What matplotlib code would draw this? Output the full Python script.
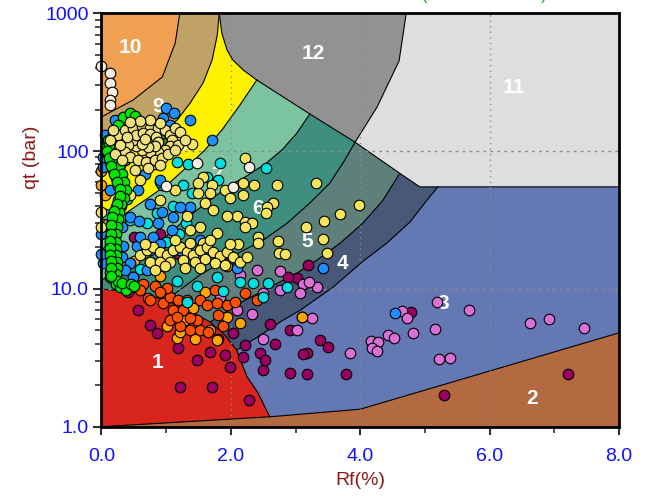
import matplotlib
matplotlib.use('Agg')
import matplotlib.pyplot as plt
from matplotlib.ticker import FixedLocator, NullFormatter

# ---- zone boundaries, (Rf %, qt bar) ----
B_10_9 = [(0.0, 177), (0.49, 235), (0.94, 345), (1.14, 609), (1.21, 1000)]
B_9_8 = [(0.0, 79), (0.36, 97), (0.67, 116), (0.95, 140), (1.17, 168), (1.37, 223),
         (1.57, 312), (1.71, 458), (1.79, 696), (1.82, 1000)]
B_8_7 = [(0.0, 26.8), (0.36, 35), (0.72, 45.7), (1.03, 57.7), (1.32, 76.7), (1.60, 102),
         (1.86, 142), (2.14, 216), (2.40, 328)]
B_7_6 = [(0.0, 11.6), (0.52, 14.9), (0.90, 21.9), (1.32, 32.7), (1.68, 44.2), (1.99, 56.7),
         (2.22, 64.9), (2.53, 80.6), (2.79, 102), (3.02, 135), (3.22, 186)]
B_6_5 = [(1.0, 8.3), (1.52, 12.6), (1.99, 17), (2.50, 22.6), (2.87, 30), (3.22, 42),
         (3.53, 58.6), (3.76, 86), (3.92, 116)]
B_5_4 = [(1.68, 5.75), (2.14, 7.9), (2.60, 10.3), (3.02, 13.0), (3.33, 16.2), (3.69, 21.5),
         (4.04, 30), (4.35, 44), (4.61, 69)]
B_4_3 = [(2.09, 3.6), (2.45, 4.6), (2.76, 5.75), (3.07, 7.0), (3.58, 10.3), (4.03, 15.7),
         (4.41, 21.5), (4.77, 30.6), (5.03, 44), (5.20, 55)]
B_1 = [(0.0, 10.0), (0.6, 9.3), (1.0, 8.3), (1.35, 7.0), (1.68, 5.75), (1.91, 4.6),
       (2.09, 3.6), (2.25, 2.3), (2.42, 1.76), (2.60, 1.18)]
B_2 = [(0.0, 1.0), (2.60, 1.18), (4.0, 1.34), (8.0, 4.8)]
B_12 = [(1.82, 1000), (1.86, 719), (1.94, 542), (2.03, 458), (2.19, 388), (2.40, 328),
        (3.22, 186), (3.92, 116)]
B_11_LOW = [(3.92, 116), (4.61, 69), (4.92, 55), (8.0, 55)]
B_12_11 = [(3.92, 116), (4.26, 209), (4.60, 451), (4.71, 1000)]

ZONE_COLORS = {1: '#d8261e', 2: '#b46a40', 3: '#6478b4', 4: '#485878', 5: '#5e807a',
               6: '#3f8f80', 7: '#7cc4a0', 8: '#fff200', 9: '#c0a266', 10: '#f0a050',
               11: '#dedede', 12: '#929292'}
ZONE_LABELS = [(1, 0.87, 2.9), (2, 6.65, 1.61), (3, 5.28, 7.8), (4, 3.73, 15.4),
               (5, 3.18, 21.9), (6, 2.42, 38.6), (7, 1.79, 67), (8, 1.26, 111),
               (9, 0.87, 209), (10, 0.44, 569), (11, 6.38, 287), (12, 3.27, 515)]

# ---- CPT data, (Rf %, qt bar) ----
MAROON = [(0.41, 9.5), (0.56, 7.0), (0.86, 4.8), (1.18, 3.75), (1.48, 3.05), (1.21, 1.95),
          (1.71, 1.95), (2.28, 1.56), (1.99, 2.7), (2.03, 4.8), (2.19, 3.2), (2.45, 3.4),
          (2.50, 2.6), (2.60, 5.6), (2.68, 4.0), (2.91, 5.0), (2.91, 2.45), (3.02, 11.9),
          (2.88, 12.3), (3.19, 14.8), (3.18, 3.4), (3.18, 2.4), (3.38, 4.26), (3.50, 3.8),
          (3.11, 3.35), (3.78, 2.4), (4.78, 6.8), (5.29, 1.7), (7.21, 2.4), (1.91, 3.3),
          (1.68, 3.5), (2.22, 3.9), (0.75, 5.5), (2.53, 3.05), (1.80, 4.3), (0.5, 24),
          (0.9, 25), (0.3, 20), (1.2, 18)]
ORCHID = [(2.40, 13.7), (2.76, 13.5), (2.50, 9.3), (2.76, 9.8), (3.11, 10.9), (3.33, 10.3),
          (3.21, 11.2), (3.07, 9.3), (1.83, 8.7), (2.09, 7.0), (2.33, 6.6), (2.50, 4.3),
          (3.10, 6.3), (3.25, 6.1), (3.02, 5.0), (3.84, 3.4), (4.17, 4.2), (4.27, 4.1),
          (4.18, 3.7), (4.26, 3.55), (4.43, 4.6), (4.52, 4.4), (4.64, 6.9), (4.72, 6.1),
          (4.81, 4.8), (5.15, 5.1), (5.19, 8.0), (5.68, 7.0), (5.22, 3.1), (5.39, 3.15),
          (6.62, 5.7), (6.92, 6.0), (7.46, 5.2), (2.14, 12.6), (0.75, 15.6)]
ORANGE = [(1.01, 5.4), (1.17, 4.4), (1.45, 4.3), (1.79, 4.26), (1.94, 6.3), (2.14, 5.65),
          (1.60, 9.5), (1.41, 7.3), (1.94, 14.6), (3.10, 6.3), (1.21, 4.9), (1.68, 5.0),
          (1.29, 5.9), (0.0, 57), (0.0, 72), (0.05, 48), (0.1, 30), (0.3, 40), (0.5, 16),
          (0.2, 12), (0.9, 12.5)]
ORANGERED = [(0.49, 12.1), (0.64, 10.9), (0.83, 10.5), (0.72, 8.6), (0.95, 7.9), (1.06, 8.7),
             (1.18, 8.3), (1.11, 7.0), (1.26, 7.0), (1.06, 5.9), (1.21, 5.4), (1.37, 5.0),
             (1.52, 5.0), (1.65, 4.85), (1.48, 5.9), (1.52, 8.3), (1.63, 7.6), (1.79, 7.9),
             (1.80, 6.5), (1.94, 7.6), (2.06, 8.0), (1.88, 5.4), (2.22, 9.3), (2.40, 8.3),
             (1.01, 10.1), (0.75, 8.3), (1.32, 8.3), (1.17, 6.3), (1.37, 6.1), (0.9, 9.5),
             (0.6, 9.8), (1.75, 9.8)]
CYAN = [(1.34, 80), (1.17, 83), (1.83, 82), (2.54, 75), (1.26, 56.6), (1.63, 64.5),
        (1.80, 62), (0.94, 57), (0.44, 31.6), (0.86, 35.6), (1.17, 11.5), (1.48, 10.5),
        (1.79, 12.3), (1.88, 9.6), (2.14, 11.2), (2.34, 11.0), (2.50, 8.8), (2.57, 11.0),
        (2.87, 10.3), (1.32, 8.0), (0.4, 45), (0.7, 30), (1.1, 40), (0.2, 14), (0.6, 14),
        (1.0, 22), (1.3, 30), (1.6, 20), (1.4, 50), (0.9, 60), (0.05, 35), (1.2, 25)]
BLUE = [(1.0, 205), (1.12, 189), (0.95, 174), (1.06, 155), (1.37, 168), (1.71, 120),
        (0.02, 77), (0.05, 131), (0.03, 91), (0.56, 52), (0.75, 41), (0.94, 36), (1.11, 33),
        (1.37, 39), (0.87, 30), (0.80, 24), (0.55, 20.5), (0.33, 20.5), (0.32, 17),
        (0.44, 15.5), (0.36, 13.7), (0.49, 12.1), (0.70, 13.7), (0.60, 24), (0.44, 33),
        (0.32, 28), (0.10, 19.2), (0.03, 15.5), (0.13, 12.1), (0.58, 31), (1.09, 26.8),
        (1.21, 39.5), (2.09, 14.2), (3.42, 14.2), (4.54, 6.7), (0.21, 111), (0.36, 86),
        (0.13, 52), (0.29, 44), (0.67, 68), (0.90, 62), (0.26, 37), (0.16, 27), (0.75, 19),
        (0.90, 21), (0.98, 16.2), (1.21, 19), (1.52, 22.6), (0.21, 168), (0.36, 142),
        (0.0, 18), (0.0, 25)]
YELLOW = [(2.22, 89), (2.71, 56.6), (2.36, 56.6), (2.19, 58.8), (2.19, 48), (3.32, 58.8),
          (2.65, 41.7), (2.56, 39), (2.54, 35.5), (2.09, 33.6), (2.22, 30.6), (2.33, 30),
          (2.22, 28), (3.16, 28), (3.44, 31), (3.69, 35), (3.98, 40.5), (2.42, 23.9),
          (2.42, 21.6), (2.73, 22.2), (3.42, 23), (3.49, 18.3), (2.74, 18.3), (2.83, 18.0),
          (2.11, 21), (2.03, 17), (1.57, 64.5), (1.71, 56.6), (1.49, 50), (1.68, 50),
          (1.91, 52), (1.99, 45.5), (1.60, 41.7), (1.72, 37.5), (1.94, 34), (1.79, 25.6),
          (1.32, 34), (1.37, 26.8), (1.52, 28), (1.57, 21.6), (1.40, 112), (1.49, 59),
          (0.83, 80), (0.6, 62), (0.44, 48), (0.9, 44), (1.14, 52), (0.29, 79),
          (0.0, 36), (0.0, 28),
          # band near qt 15-22
          (0.6, 17.6), (0.7, 19.2), (0.8, 20.3), (0.9, 18.6), (1.01, 17.6), (1.11, 19.2),
          (1.21, 20.3), (1.32, 18.6), (1.41, 17.6), (1.52, 19.2), (1.63, 20.3), (1.72, 18.6),
          (1.83, 17.3), (1.94, 18.6), (2.03, 17.0), (2.14, 15.6), (0.75, 15.6), (0.9, 15.6),
          (1.06, 15.6), (1.26, 16.2), (1.45, 15.6), (1.6, 16.5), (1.75, 15.4), (0.67, 21),
          (1.37, 21.6), (1.14, 22.6), (1.68, 22.6), (1.99, 21), (2.25, 17.0), (0.83, 13.7),
          (0.98, 14.6), (1.29, 14.1), (1.52, 14.1), (1.91, 14.9)]
GREEN = [(0.33, 177), (0.44, 189), (0.52, 180), (0.26, 155), (0.18, 135), (0.10, 120),
         (0.07, 106), (0.10, 95), (0.13, 83), (0.18, 73), (0.22, 64), (0.26, 56), (0.29, 50),
         (0.26, 44), (0.22, 39), (0.18, 34.6), (0.16, 31), (0.15, 26.8), (0.13, 23.6),
         (0.13, 21), (0.13, 18.6), (0.14, 16.8), (0.14, 15), (0.13, 13.2), (0.16, 11.9),
         (0.22, 10.9), (0.29, 10.3), (0.38, 9.9),
         (0.30, 130), (0.25, 115), (0.20, 100), (0.22, 88), (0.27, 78), (0.32, 68),
         (0.35, 60), (0.38, 52), (0.35, 46), (0.30, 41), (0.27, 36), (0.25, 32), (0.24, 28),
         (0.23, 25), (0.22, 22), (0.22, 19.5), (0.23, 17.5), (0.24, 15.8), (0.24, 14.2),
         (0.22, 12.8), (0.25, 11.5), (0.32, 11.0), (0.45, 10.8), (0.50, 10.5),
         (0.12, 110), (0.08, 100), (0.11, 89), (0.15, 78), (0.20, 68), (0.24, 60),
         (0.28, 53), (0.28, 47), (0.24, 41.5), (0.20, 37), (0.17, 33), (0.15, 29),
         (0.14, 25), (0.13, 22.3), (0.13, 19.8), (0.13, 17.7), (0.14, 15.9), (0.14, 14.1),
         (0.14, 12.5)]
DARKGREEN = [(0.7, 120), (0.8, 115), (0.9, 125), (0.6, 128), (1.0, 115)]
KHAKI = [(0.26, 131), (0.36, 142), (0.49, 148), (0.63, 151), (0.75, 148), (0.87, 146),
         (0.98, 142), (1.06, 131), (1.09, 120), (1.06, 108), (0.98, 102), (0.87, 98),
         (0.75, 98), (0.63, 102), (0.53, 108), (0.49, 120), (0.53, 131), (0.64, 135),
         (0.75, 133), (0.84, 126), (0.87, 116), (0.83, 108), (0.72, 107), (0.63, 112),
         (0.67, 122), (0.41, 110), (0.36, 98), (0.44, 91), (0.56, 86), (0.69, 83),
         (0.83, 86), (0.94, 89), (0.29, 110), (0.21, 95), (0.32, 86), (1.14, 148),
         (1.21, 138), (0.90, 160), (0.75, 168), (0.60, 165), (0.44, 163), (1.18, 110),
         (1.29, 120), (1.03, 95), (1.14, 102), (0.13, 120), (0.18, 142), (0.39, 126),
         (0.90, 79), (0.72, 75), (0.52, 73)]
CREAM = [(0.13, 369), (0.13, 312), (0.16, 268), (0.13, 235), (0.13, 216), (0.0, 415),
         (1.48, 82), (2.28, 77), (2.03, 55), (1.0, 56)]

fig = plt.figure(figsize=(6.56, 4.96), dpi=100)
ax = fig.add_axes([0.1547, 0.1397, 0.789, 0.8335])
ax.set_yscale('log')
ax.set_xlim(0, 8)
ax.set_ylim(1, 1000)


def xs(pts):
    return [p[0] for p in pts]


def ys(pts):
    return [p[1] for p in pts]


def left_of(curve):
    # polygon on the left / upper side of a band boundary
    return curve + [(curve[-1][0], 1000), (0, 1000), (0, 1), (curve[0][0], 1)]


ax.fill([0, 8, 8, 0], [1, 1, 1000, 1000], color=ZONE_COLORS[3], lw=0, zorder=1)
for zone, curve in [(4, B_4_3), (5, B_5_4), (6, B_6_5), (7, B_7_6),
                    (8, B_8_7), (9, B_9_8), (10, B_10_9)]:
    poly = left_of(curve)
    ax.fill(xs(poly), ys(poly), color=ZONE_COLORS[zone], lw=0, zorder=1)

z12 = B_12 + B_12_11[1:]
ax.fill(xs(z12), ys(z12), color=ZONE_COLORS[12], lw=0, zorder=1)
z11 = B_12_11[::-1] + B_11_LOW[1:] + [(8, 1000)]
ax.fill(xs(z11), ys(z11), color=ZONE_COLORS[11], lw=0, zorder=1)
z1 = B_1 + [(0, 1.0)]
ax.fill(xs(z1), ys(z1), color=ZONE_COLORS[1], lw=0, zorder=1)
z2 = B_2 + [(8, 1), (0, 1)]
ax.fill(xs(z2), ys(z2), color=ZONE_COLORS[2], lw=0, zorder=1)

for curve in [B_10_9, B_9_8, B_8_7, B_7_6, B_6_5, B_5_4, B_4_3, B_1, B_2,
              B_12, B_11_LOW, B_12_11]:
    ax.plot(xs(curve), ys(curve), color='black', lw=0.8, zorder=2)

# dotted grid
for gx in [2, 4, 6]:
    ax.axvline(gx, color='#8c8c8c', lw=1, ls=(0, (1, 3)), zorder=2)
for gy in [10, 100]:
    ax.axhline(gy, color='#8c8c8c', lw=1, ls=(0, (2, 3)), zorder=2)

for zone, lx, ly in ZONE_LABELS:
    ax.text(lx, ly, str(zone), color='white', fontsize=15, fontweight='bold',
            family='Liberation Sans', ha='center', va='center', zorder=3)

series = [(MAROON, '#990060'), (ORCHID, '#da70d6'), (ORANGE, '#ffa500'),
          (ORANGERED, '#ff5000'), (CYAN, '#00dede'), (BLUE, '#1e8fff'),
          (YELLOW, '#f8e45c'), (GREEN, '#00e400'), (DARKGREEN, '#4f7a2a'),
          (KHAKI, '#efe07c'), (CREAM, '#f7efe6')]
for pts, col in series:
    ax.scatter(xs(pts), ys(pts), s=58, c=col, edgecolors='black', linewidths=0.8,
               zorder=4, clip_on=False)

for sp in ax.spines.values():
    sp.set_linewidth(2)
    sp.set_color('black')
    sp.set_zorder(5)

ax.xaxis.set_major_locator(FixedLocator([0, 2, 4, 6, 8]))
ax.xaxis.set_minor_locator(FixedLocator([1, 3, 5, 7]))
ax.set_xticklabels(['0.0', '2.0', '4.0', '6.0', '8.0'])
ax.yaxis.set_major_locator(FixedLocator([1, 10, 100, 1000]))
ax.yaxis.set_minor_locator(FixedLocator([m * d for d in [1, 10, 100] for m in range(2, 10)]))
ax.yaxis.set_minor_formatter(NullFormatter())
ax.set_yticklabels(['1.0', '10.0', '100', '1000'])
ax.tick_params(which='major', length=6, width=1.5, color='#303030', labelsize=14,
               labelcolor='#1010ff')
ax.tick_params(which='minor', length=4, width=1.2, color='#303030')
ax.tick_params(axis='x', which='major', pad=9)
ax.tick_params(axis='y', which='major', pad=3)
for lab in ax.get_xticklabels() + ax.get_yticklabels():
    lab.set_family(['Liberation Sans Narrow', 'Liberation Sans'])

ax.set_xlabel('Rf(%)', fontsize=14, color='#8b1a1a', family='Liberation Sans')
ax.set_ylabel('qt (bar)', fontsize=14, color='#8b1a1a', family='Liberation Sans')
ax.xaxis.set_label_coords(0.5, -0.11)
ax.yaxis.set_label_coords(-0.119, 0.652)

fig.text(484 / 656, 1.0, '(Robertson 1986)', color='#1a9a1a', fontsize=11.5,
         family='Liberation Sans', ha='center', va='baseline')

fig.savefig('out.png', dpi=100)
